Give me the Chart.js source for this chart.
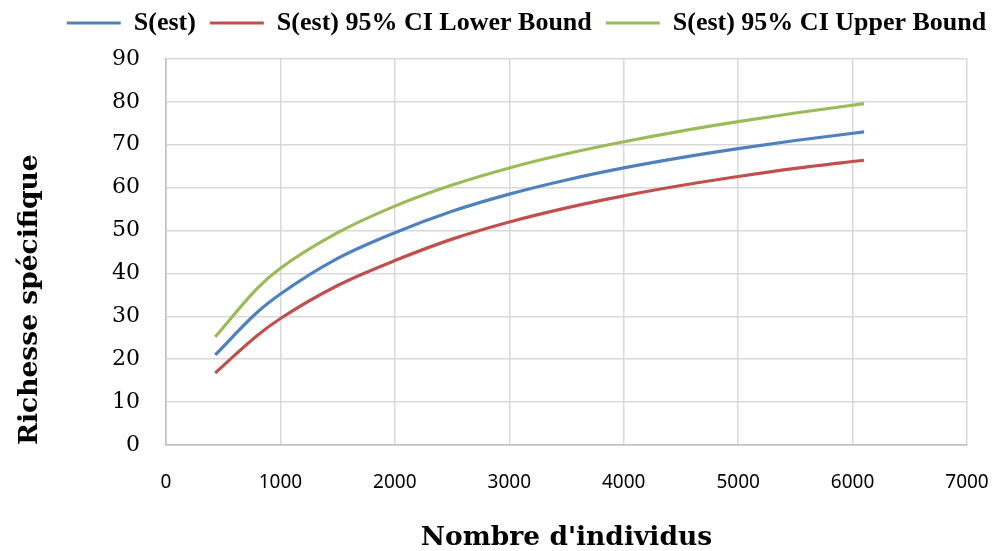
<!DOCTYPE html>
<html>
<head>
<meta charset="utf-8">
<script src="https://cdn.jsdelivr.net/npm/chart.js@4.4.1/dist/chart.umd.min.js"></script>
<style>
  html, body { margin: 0; padding: 0; background: #fff; }
  #wrap { width: 996px; height: 551px; }
</style>
</head>
<body>
<div id="wrap"><canvas id="chart"></canvas></div>
<script>
// Rarefaction curve: estimated species richness vs number of individuals
const individus = [430, 800, 1000, 1500, 2000, 2500, 3000, 3500, 4000, 4500, 5000, 5500, 6100];
const sEst      = [21.0, 31.0, 35.2, 43.5, 49.5, 54.5, 58.5, 61.8, 64.6, 67.0, 69.1, 71.0, 73.0];
const sLower    = [16.8, 25.6, 29.5, 37.2, 43.0, 48.0, 52.0, 55.3, 58.1, 60.5, 62.6, 64.5, 66.4];
const sUpper    = [25.2, 36.6, 41.2, 49.5, 55.7, 60.6, 64.6, 67.9, 70.7, 73.2, 75.4, 77.4, 79.6];

const seriesNames = ['S(est)', 'S(est) 95% CI Lower Bound', 'S(est) 95% CI Upper Bound'];
const seriesColors = ['#4F81BD', '#C0504D', '#9BBB59'];

const toPoints = ys => individus.map((x, i) => ({ x: x, y: ys[i] }));

const datasets = [sEst, sLower, sUpper].map((ys, i) => ({
    label: seriesNames[i],
    data: toPoints(ys),
    borderColor: seriesColors[i],
    backgroundColor: seriesColors[i],
    borderWidth: 3.2,
    pointRadius: 0,
    cubicInterpolationMode: 'monotone'
}));

// extra room under the legend, and nudge it right like the original
const legendGap = {
    id: 'legendGap',
    beforeLayout(chart) {
        const lg = chart.legend;
        if (lg && !lg._gapPatched) {
            const fit = lg.fit.bind(lg);
            lg.fit = function () { fit(); this.height += 13; };
            lg._gapPatched = true;
        }
    },
    afterLayout(chart) {
        if (chart.legend) {
            chart.legend.left += 38;
            chart.legend.right += 38;
        }
    }
};

new Chart(document.getElementById('chart').getContext('2d'), {
    type: 'line',
    data: { datasets: datasets },
    plugins: [legendGap],
    options: {
        responsive: true,
        maintainAspectRatio: false,
        animation: false,
        layout: { padding: { left: 10, right: 29, top: -4, bottom: 0 } },
        plugins: {
            tooltip: { enabled: false },
            legend: {
                position: 'top',
                labels: {
                    color: '#000',
                    font: { family: '"Liberation Serif"', size: 26, weight: 'bold' },
                    boxWidth: 54,
                    boxHeight: 3,
                    padding: 14,
                    generateLabels(chart) {
                        return Chart.defaults.plugins.legend.labels.generateLabels(chart)
                            .map(l => Object.assign(l, { lineWidth: 0 }));
                    }
                }
            }
        },
        scales: {
            x: {
                type: 'linear',
                min: 0,
                max: 7000,
                afterFit: s => { s.height = 106; s.paddingLeft = 0; s.paddingRight = 0; },
                ticks: {
                    stepSize: 1000,
                    color: '#000',
                    padding: 26,
                    callback: v => String(v),
                    font: { family: 'Noto Sans, sans-serif', size: 19 }
                },
                grid: { color: '#D9D9D9', lineWidth: 1.5, drawTicks: false },
                border: { color: '#BFBFBF', width: 1.5 },
                title: {
                    display: true,
                    text: "Nombre d'individus",
                    color: '#000',
                    font: { family: '"DejaVu Serif"', size: 26.5, weight: 'bold', lineHeight: 1 },
                    padding: { top: 24, bottom: 0 }
                }
            },
            y: {
                min: 0,
                max: 90,
                afterFit: s => { s.width = 156; },
                ticks: {
                    stepSize: 10,
                    color: '#000',
                    padding: 26,
                    font: { family: '"DejaVu Serif"', size: 22 }
                },
                grid: { color: '#D9D9D9', lineWidth: 1.5, drawTicks: false },
                border: { color: '#BFBFBF', width: 1.5 },
                title: {
                    display: true,
                    text: 'Richesse spécifique',
                    align: 'start',
                    color: '#000',
                    font: { family: '"DejaVu Serif"', size: 26.5, weight: 'bold' },
                    padding: { bottom: 0 }
                }
            }
        }
    }
});
</script>
</body>
</html>
